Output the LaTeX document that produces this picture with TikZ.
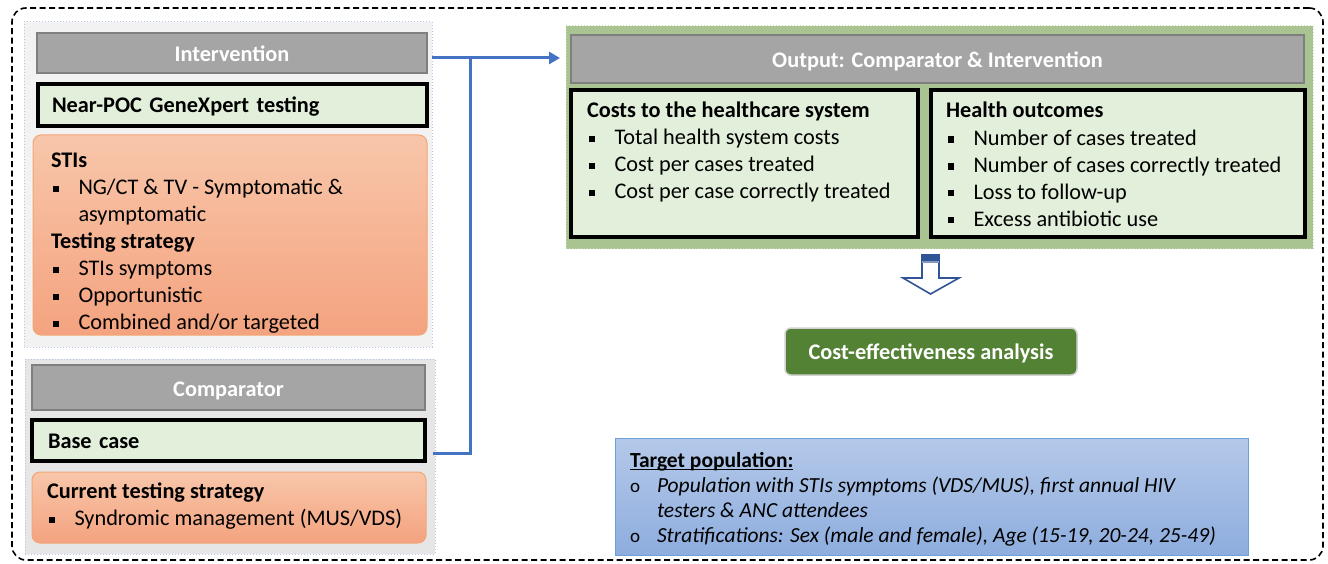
\documentclass[tikz,border=0pt]{standalone}
\usepackage{fontspec}
\setmainfont{Carlito}
\usetikzlibrary{arrows.meta}
\definecolor{hdrgray}{HTML}{A5A5A5}
\definecolor{hdrline}{HTML}{7F7F7F}
\definecolor{grpA}{HTML}{F2F2F2}
\definecolor{grpB}{HTML}{E7E6E6}
\definecolor{grpline}{HTML}{B4C7E7}
\definecolor{lgreen}{HTML}{E2EFDA}
\definecolor{orTop}{HTML}{F8C6AA}
\definecolor{orBot}{HTML}{F4A37F}
\definecolor{orLine}{HTML}{F2A675}
\definecolor{outgrn}{HTML}{A9C391}
\definecolor{outline}{HTML}{C9DAB8}
\definecolor{ceagrn}{HTML}{548235}
\definecolor{tgTop}{HTML}{B4C9E9}
\definecolor{tgBot}{HTML}{8EADDE}
\definecolor{tgLine}{HTML}{6FA0D8}
\definecolor{connblue}{HTML}{4472C4}
\definecolor{arrblue}{HTML}{2F5597}
\newcommand\bodyfont{\fontsize{22.3}{27}\selectfont}
\newcommand\tgfont{\fontsize{21.5}{25.3}\selectfont}
\newcommand\sqbul{\makebox[27.5pt][l]{\hspace{2pt}\rule[2.5pt]{6pt}{6pt}}}
\newcommand\obul{\makebox[27pt][l]{\upshape\fontsize{19}{19}\selectfont o}}
\newcommand\myul[1]{\setbox0\hbox{#1}\rlap{\rule[-2.8pt]{\wd0}{1.3pt}}#1}
\begin{document}
\begin{tikzpicture}[x=1pt,y=-1pt,
  every node/.style={inner sep=0pt, outer sep=0pt},
  box/.style={anchor=north west},
  frame/.style={box, draw=black, line width=1.6pt, dash pattern=on 6pt off 3.5pt, rounded corners=14pt},
  grp/.style={box, draw=grpline, line width=1pt, dotted},
  hdr/.style={box, fill=hdrgray, draw=hdrline, line width=1.8pt, text=white, font=\bodyfont\bfseries, text height=17pt, text depth=0pt},
  gbox/.style={box, fill=lgreen, draw=black, line width=3.2pt},
  gline/.style={gbox, font=\bodyfont\bfseries, text height=16pt, text depth=0pt, align=left},
  obox/.style={box, draw=orLine, line width=1pt, top color=orTop, bottom color=orBot, rounded corners=8pt},
  txt/.style={anchor=north west, align=left, font=\bodyfont},
  conn/.style={draw=connblue, line width=3pt},
  hollow/.style={draw=arrblue, line width=1.6pt, fill=white, line join=miter}
]
\useasboundingbox (0,0) rectangle (1328,564);
\node[frame, minimum width=1311, minimum height=552] (frame) at (12,8) {};

% ---------- Intervention group ----------
\node[grp, fill=grpA, minimum width=408, minimum height=325] (igroup) at (24,22) {};
\node[hdr, minimum width=390, minimum height=40] (ihead) at (37,33) {Intervention};
\node[gline, minimum height=42, text width=361, inner xsep=14pt] (poc) at (38,84) {Near-POC GeneXpert testing};
\node[obox, minimum width=394, minimum height=200] (sti) at (33,135) {};
\node[txt] (stitxt) at (51,148.1) {\strut\textbf{STIs}\\
  \sqbul NG/CT \& TV - Symptomatic \&\\
  \hspace*{27.5pt}asymptomatic\\
  \textbf{Testing strategy}\\
  \sqbul STIs symptoms\\
  \sqbul Opportunistic\\
  \sqbul Combined and/or targeted};

% ---------- Comparator group ----------
\node[grp, fill=grpB, minimum width=410, minimum height=195] (cgroup) at (25,359) {};
\node[hdr, minimum width=393, minimum height=45] (chead) at (32,365) {Comparator};
\node[gline, minimum height=41, text width=361, inner xsep=16pt] (base) at (32,420) {Base case};
\node[obox, minimum width=394, minimum height=71] (cur) at (32,472) {};
\node[txt] (curtxt) at (47,479.1) {\strut\textbf{Current testing strategy}\\
  \sqbul Syndromic management (MUS/VDS)};

% ---------- Output group ----------
\node[grp, draw=outline, fill=outgrn, minimum width=747, minimum height=223] (ogroup) at (566,26) {};
\node[hdr, minimum width=733, minimum height=48] (ohead) at (571,35) {Output: Comparator \& Intervention};
\node[gbox, minimum width=347, minimum height=147] (costs) at (571,90) {};
\node[txt] (coststxt) at (587,99.1) {\strut\textbf{Costs to the healthcare system}\\
  \sqbul Total health system costs\\
  \sqbul Cost per cases treated\\
  \sqbul Cost per case correctly treated};
\node[gbox, minimum width=374, minimum height=147] (health) at (931,90) {};
\node[txt] (healthtxt) at (946,99.1) {\strut\textbf{Health outcomes}\\
  \sqbul Number of cases treated\\
  \sqbul Number of cases correctly treated\\
  \sqbul Loss to follow-up\\
  \sqbul Excess antibiotic use};

% ---------- hollow arrow ----------
\draw[hollow] (922,255) -- (939,255) -- (939,278) -- (959,278) -- (930.5,294) -- (903,278) -- (922,278) -- cycle;
\fill[arrblue] (922,255) rectangle (939,260.5);
\fill[arrblue!60] (922,260.5) rectangle (939,262.5);

% ---------- CEA ----------
\node[box, fill=ceagrn, draw=black!18, line width=1.5pt, rounded corners=6pt, minimum width=292, minimum height=47,
      text=white, font=\bodyfont\bfseries, text height=16pt, text depth=0pt] (cea) at (785,328) {Cost-effectiveness analysis};

% ---------- Target population ----------
\node[box, draw=tgLine, line width=1pt, top color=tgTop, bottom color=tgBot, minimum width=633, minimum height=117] (target) at (615,438) {};
\node[anchor=north west, align=left, font=\tgfont] (tgtxt) at (630,449.3) {\strut\myul{\textbf{Target population:}}\\
  \obul\textit{Population with STIs symptoms (VDS/MUS), first annual HIV}\\
  \hspace*{27pt}\textit{testers \& ANC attendees}\\
  \obul\textit{Stratifications: Sex (male and female), Age (15-19, 20-24, 25-49)}};

% ---------- connectors ----------
\coordinate (junc) at (470,58);
\draw[conn, -{Triangle[length=11pt,width=12pt]}, shorten >=6pt] (igroup.east |- junc) -- (ogroup.west |- junc);
\coordinate (cstart) at (433,453);
\draw[conn] (cstart) -| (junc);
\end{tikzpicture}
\end{document}
